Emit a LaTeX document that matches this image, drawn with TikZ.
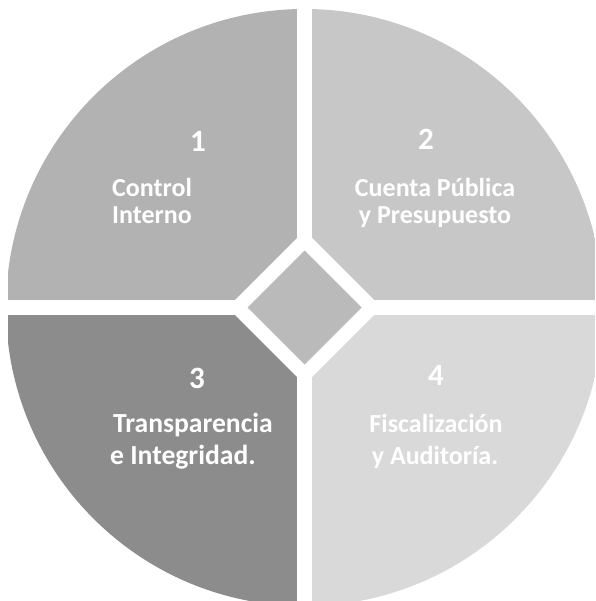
\documentclass[tikz,border=0pt]{standalone}
\usepackage{fontspec}
\setmainfont{Carlito}
\definecolor{qone}{gray}{0.70}
\definecolor{qtwo}{gray}{0.78}
\definecolor{qthree}{gray}{0.55}
\definecolor{qfour}{gray}{0.85}
\definecolor{qmid}{gray}{0.73}
\tikzset{
  lbl/.style={text=white, inner sep=0pt, font=\fontsize{26}{30}\selectfont\bfseries},
  lblbig/.style={text=white, inner sep=0pt, font=\fontsize{27.6}{32}\selectfont\bfseries},
  num/.style={text=white, inner sep=0pt, font=\fontsize{31}{34}\selectfont\bfseries},
  gap/.style={white, line width=15pt}
}
\begin{document}
\begin{tikzpicture}[x=1pt,y=-1pt]
\useasboundingbox (0,0) rectangle (595,601);
\coordinate (c) at (304.5,307.5);
\begin{scope}
  \clip (8,0) rectangle (595,601);
  \clip (c) circle[radius=298.5pt];
  \fill[qone] (0,0) rectangle (c);
  \fill[qtwo] (304.5,0) rectangle (595,307.5);
  \fill[qthree] (0,307.5) rectangle (304.5,601);
  \fill[qfour] (c) rectangle (595,601);
\end{scope}
\draw[gap] (304.5,0) -- (304.5,601);
\draw[gap] (0,307.5) -- (595,307.5);
\fill[white] (227.5,307.5) -- (304.5,230.5) -- (381.5,307.5) -- (304.5,384.5) -- cycle;
\fill[qmid] (247.5,307.5) -- (304.5,250.5) -- (361.5,307.5) -- (304.5,364.5) -- cycle;
\node[num, anchor=base] (n1) at (198,152) {1};
\node[lbl, anchor=base west] (t1a) at (112,197) {Control};
\node[lbl, anchor=base west] (t1b) at (112,224) {Interno};
\node[num, anchor=base] (n2) at (426,150) {2};
\node[lbl, anchor=base] (t2a) at (435,197) {Cuenta Pública};
\node[lbl, anchor=base] (t2b) at (435,224) {y Presupuesto};
\node[num, anchor=base] (n3) at (197,388) {3};
\node[lblbig, anchor=base west] (t3a) at (113,432) {Transparencia};
\node[lblbig, anchor=base west] (t3b) at (110,464) {e Integridad.};
\node[num, anchor=base] (n4) at (436,385) {4};
\node[lbl, anchor=base] (t4a) at (436,432) {Fiscalización};
\node[lbl, anchor=base] (t4b) at (435,464) {y Auditoría.};
\end{tikzpicture}
\end{document}
